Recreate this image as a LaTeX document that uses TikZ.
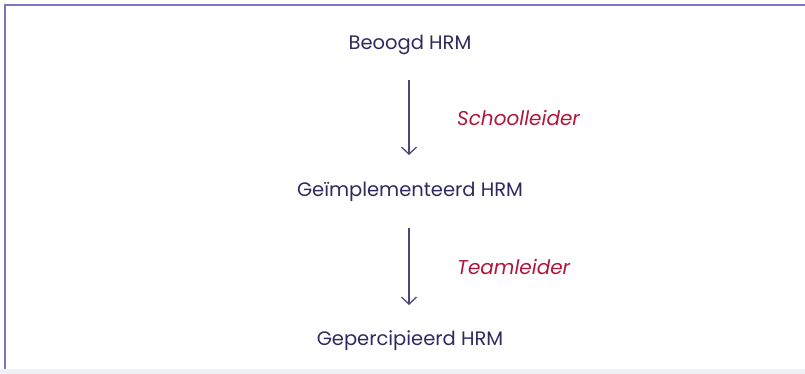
\documentclass[tikz,border=0pt]{standalone}
\usepackage{fontspec}
\setmainfont{Poppins}
\usetikzlibrary{arrows.meta}
\definecolor{hrmnavy}{HTML}{2E2A5E}
\definecolor{hrmred}{HTML}{B0173A}
\definecolor{hrmframe}{HTML}{8273C2}
\definecolor{hrmarrow}{HTML}{4B4878}
\definecolor{hrmgrey}{HTML}{F0F1F3}
\tikzset{
  level/.style={font=\fontsize{19.5}{22}\selectfont, text=hrmnavy, inner sep=0pt},
  actor/.style={font=\fontsize{20}{22}\selectfont\itshape, text=hrmred, inner sep=0pt, anchor=west},
  flow/.style={draw=hrmarrow, line width=1.3pt, -{Straight Barb[length=7pt,width=15pt,line width=1.3pt]}}
}
\begin{document}
\begin{tikzpicture}[x=1pt,y=-1pt]
\useasboundingbox (0,0) rectangle (805,374);
\fill[hrmgrey] (0,369) rectangle (805,374);
\draw[hrmframe, line width=2pt] (4.5,369) -- (4.5,5.5) -- (805,5.5);

\node[level] (beoogd) at (410,45) {Beoogd HRM};
\node[level] (geimpl) at (410,192) {Geïmplementeerd HRM};
\node[level] (gepercip) at (410,341) {Gepercipieerd HRM};

\coordinate (a1) at (409,80);
\coordinate (a2) at (409,155);
\coordinate (b1) at (409,228);
\coordinate (b2) at (409,305);

\path[flow] (a1) -- (a2);
\path[flow] (b1) -- (b2);

\node[actor] (school) at (457,118) {Schoolleider};
\node[actor] (team) at (457,267) {Teamleider};
\end{tikzpicture}
\end{document}
